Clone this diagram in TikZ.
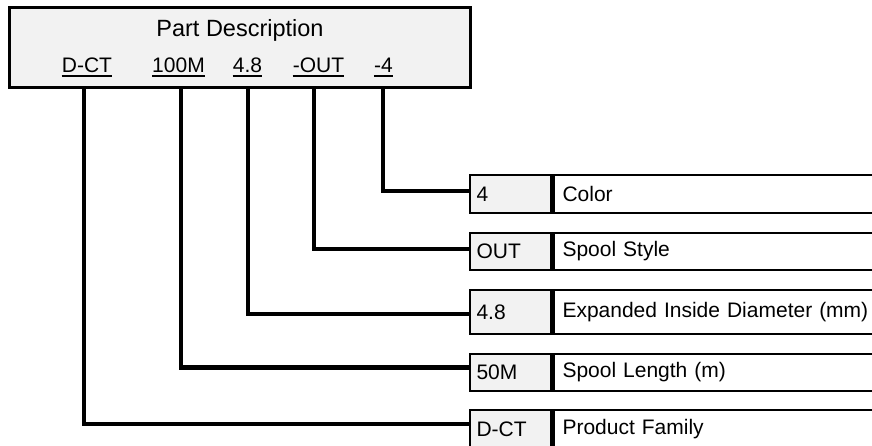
\documentclass[tikz,border=0pt]{standalone}
\usepackage{fontspec}
\setmainfont{Liberation Sans}
\definecolor{cellgray}{HTML}{F2F2F2}
\tikzset{
  topbox/.style={draw=black, line width=3pt, fill=cellgray, inner sep=0pt},
  codecell/.style={draw=black, line width=2.5pt, fill=cellgray, text width=68pt, inner xsep=6.5pt, inner ysep=0pt, align=left, font=\fontsize{21}{25}\selectfont},
  desccell/.style={draw=black, line width=2.5pt, fill=white, text width=320pt, inner xsep=9pt, inner ysep=0pt, align=left, font=\fontsize{21}{25}\selectfont},
  codetxt/.style={inner sep=0pt, anchor=base, font=\fontsize{21}{25}\selectfont},
  uline/.style={line width=2pt},
  conn/.style={line width=4.5pt, line join=miter}
}
\begin{document}
\begin{tikzpicture}[x=1pt,y=-1pt]
\useasboundingbox (0,0) rectangle (872,445);
\clip (0,0) rectangle (872,445);
% top box
\node[topbox, minimum width=461pt, minimum height=80pt] (top) at (239.5,47.5) {};
\node[inner sep=0pt, anchor=base, font=\fontsize{23.5}{28}\selectfont] (title) at (240,36) {Part Description};
\node[codetxt] (k1) at (87,72) {D-CT};
\node[codetxt] (k2) at (178.5,72) {100M};
\node[codetxt] (k3) at (247.5,72) {4.8};
\node[codetxt] (k4) at (318.5,72) {-OUT};
\node[codetxt] (k5) at (383.5,72) {-4};
\foreach \k in {k1,k2,k3,k4,k5}{
  \draw[uline] ([yshift=-3.5pt]\k.base west) -- ([yshift=-3.5pt]\k.base east);
}
% connector start points
\coordinate (p1) at (84,88);
\coordinate (p2) at (181,88);
\coordinate (p3) at (248,88);
\coordinate (p4) at (314,88);
\coordinate (p5) at (383,88);
% rows
\node[codecell, minimum height=38pt] (r1a) at (510.5,194) {4};
\node[desccell, minimum height=38pt, anchor=west] (r1b) at (r1a.east) {Color};
\node[codecell, minimum height=37pt] (r2a) at (510.5,251.5) {OUT};
\node[desccell, minimum height=37pt, anchor=west] (r2b) at (r2a.east) {Spool Style};
\node[codecell, minimum height=44pt] (r3a) at (510.5,312) {4.8};
\node[desccell, minimum height=44pt, anchor=west] (r3b) at (r3a.east) {Expanded Inside Diameter (mm)};
\node[codecell, minimum height=37pt] (r4a) at (510.5,372.5) {50M};
\node[desccell, minimum height=37pt, anchor=west] (r4b) at (r4a.east) {Spool Length (m)};
\node[codecell, minimum height=38pt] (r5a) at (510.5,429) {D-CT};
\node[desccell, minimum height=38pt, anchor=west] (r5b) at (r5a.east) {Product Family};
% connectors
\draw[conn] (p5) |- ([yshift=3pt]r1a.west);
\draw[conn] (p4) |- ([yshift=2.5pt]r2a.west);
\draw[conn] (p3) |- ([yshift=-2pt]r3a.west);
\draw[conn] (p2) |- ([yshift=5pt]r4a.west);
\draw[conn] (p1) |- ([yshift=5pt]r5a.west);
\end{tikzpicture}
\end{document}
